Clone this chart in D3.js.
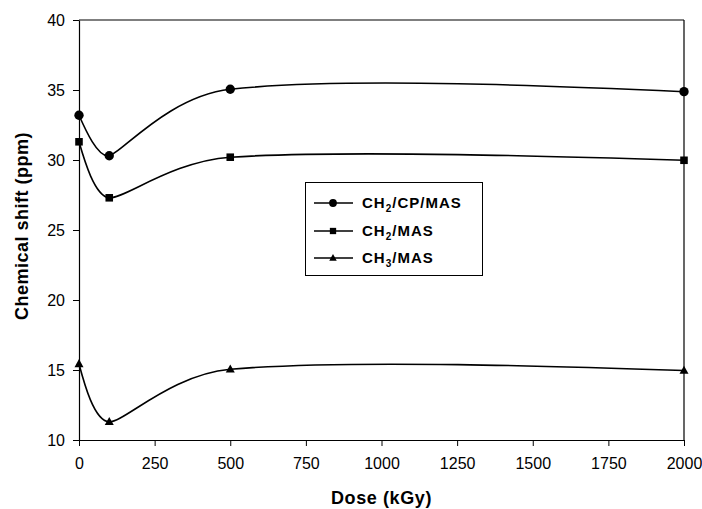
<!DOCTYPE html>
<html>
<head>
<meta charset="utf-8">
<script src="https://cdn.jsdelivr.net/npm/d3@7"></script>
<style>
  html, body { margin: 0; padding: 0; background: #fff; }
  svg { display: block; font-family: Arial, "Liberation Sans", Helvetica, sans-serif; }
</style>
</head>
<body>
<svg id="chart" width="702" height="509"></svg>
<script>
// Irradiation dose (kGy) and 13C chemical shifts (ppm)
const doses = [0, 100, 500, 2000];
const ch2CpMas = [33.2, 30.3, 35.05, 34.88];
const ch2Mas = [31.3, 27.3, 30.2, 29.98];
const ch3Mas = [15.43, 11.3, 15.05, 14.96];

const xTicks = [0, 250, 500, 750, 1000, 1250, 1500, 1750, 2000];
const yTicks = [10, 15, 20, 25, 30, 35, 40];

const series = [
  { name: ["CH", "2", "/CP/MAS"], values: ch2CpMas, marker: "circle" },
  { name: ["CH", "2", "/MAS"], values: ch2Mas, marker: "square" },
  { name: ["CH", "3", "/MAS"], values: ch3Mas, marker: "triangle" }
];

const svg = d3.select("#chart");
const margin = { left: 79, right: 18, top: 20, bottom: 69 };
const W = 702, H = 509;

const x = d3.scaleLinear().domain([0, 2000]).range([margin.left, W - margin.right]);
const y = d3.scaleLinear().domain([10, 40]).range([H - margin.bottom, margin.top]);

// Smoothed line: cubic Bezier segments whose handles follow the
// neighbour-to-neighbour direction, limited by the adjacent segment length
// and kept short at sharp turns so the curve does not sag past them.
function smoothCurve(context) {
  const K = 0.2, C = 0.45, CT = 0.23, E = 1 / 3;
  let pts;
  const dist = (a, b) => Math.hypot(b[0] - a[0], b[1] - a[1]);
  return {
    areaStart() {}, areaEnd() {},
    lineStart() { pts = []; },
    point(px, py) { pts.push([+px, +py]); },
    lineEnd() {
      const n = pts.length;
      if (!n) return;
      context.moveTo(pts[0][0], pts[0][1]);
      if (n === 1) return;
      if (n === 2) { context.lineTo(pts[1][0], pts[1][1]); return; }
      const hin = [], hout = [];
      for (let i = 1; i < n - 1; i++) {
        const p = pts[i], a = pts[i - 1], b = pts[i + 1];
        const tx = b[0] - a[0], ty = b[1] - a[1];
        const tl = Math.hypot(tx, ty) || 1;
        const ux = tx / tl, uy = ty / tl;
        const dPrev = dist(a, p) || 1, dNext = dist(p, b) || 1;
        // cosine of the turn between incoming and outgoing chords
        const cosTurn = ((p[0] - a[0]) * (b[0] - p[0]) + (p[1] - a[1]) * (b[1] - p[1])) / (dPrev * dNext);
        let aIn, aOut;
        if (cosTurn < 0.5) {
          aIn = aOut = Math.min(K * tl, CT * Math.min(dPrev, dNext));
        } else {
          aIn = Math.min(K * tl, C * dPrev);
          aOut = Math.min(K * tl, C * dNext);
        }
        hin[i] = [p[0] - ux * aIn, p[1] - uy * aIn];
        hout[i] = [p[0] + ux * aOut, p[1] + uy * aOut];
      }
      hout[0] = [pts[0][0] + (hin[1][0] - pts[0][0]) * E, pts[0][1] + (hin[1][1] - pts[0][1]) * E];
      const L = n - 1;
      hin[L] = [pts[L][0] + (hout[L - 1][0] - pts[L][0]) * E, pts[L][1] + (hout[L - 1][1] - pts[L][1]) * E];
      for (let i = 0; i < L; i++) {
        context.bezierCurveTo(hout[i][0], hout[i][1], hin[i + 1][0], hin[i + 1][1], pts[i + 1][0], pts[i + 1][1]);
      }
    }
  };
}

// frame: top and right edges
svg.append("line")
  .attr("x1", x(0)).attr("x2", x(2000)).attr("y1", y(40)).attr("y2", y(40))
  .attr("stroke", "#000").attr("stroke-width", 1.2);
svg.append("line")
  .attr("x1", x(2000)).attr("x2", x(2000)).attr("y1", y(40)).attr("y2", y(10))
  .attr("stroke", "#000").attr("stroke-width", 1.2);

const xAxis = svg.append("g")
  .attr("transform", `translate(0,${y(10)})`)
  .call(d3.axisBottom(x).tickValues(xTicks).tickFormat(d3.format("d"))
    .tickSize(6).tickPadding(12).tickSizeOuter(0));
const yAxis = svg.append("g")
  .attr("transform", `translate(${x(0)},0)`)
  .call(d3.axisLeft(y).tickValues(yTicks).tickFormat(d3.format("d"))
    .tickSize(6).tickPadding(8).tickSizeOuter(0));

[xAxis, yAxis].forEach(g => {
  g.select(".domain").attr("stroke", "#000").attr("stroke-width", 1.2);
  g.selectAll(".tick line").attr("stroke", "#000").attr("stroke-width", 1);
  g.selectAll(".tick text")
    .attr("fill", "#000")
    .style("font-size", "16px")
    .style("font-family", "Arial, 'Liberation Sans', sans-serif");
});

// axis titles
svg.append("text")
  .attr("x", (x(0) + x(2000)) / 2)
  .attr("y", 504)
  .attr("text-anchor", "middle")
  .style("font-size", "18px").style("font-weight", "bold").style("letter-spacing", "0.6px")
  .text("Dose (kGy)");
svg.append("text")
  .attr("transform", `translate(28,${226}) rotate(-90)`)
  .attr("text-anchor", "middle")
  .style("font-size", "18px").style("font-weight", "bold").style("letter-spacing", "0.5px")
  .text("Chemical shift (ppm)");

const line = d3.line()
  .x((d, i) => x(doses[i]))
  .y(d => y(d))
  .curve(smoothCurve);

function drawMarker(g, type, cx, cy, s) {
  if (type === "circle") {
    g.append("circle").attr("cx", cx).attr("cy", cy).attr("r", s * 0.52).attr("fill", "#000");
  } else if (type === "square") {
    g.append("rect").attr("x", cx - s * 0.42).attr("y", cy - s * 0.42)
      .attr("width", s * 0.84).attr("height", s * 0.84).attr("fill", "#000");
  } else {
    const w = s * 1.0, h = s * 0.9;
    g.append("path")
      .attr("d", `M${cx},${cy - h * 0.6}L${cx + w / 2},${cy + h * 0.4}L${cx - w / 2},${cy + h * 0.4}Z`)
      .attr("fill", "#000");
  }
}

const plot = svg.append("g");
series.forEach(s => {
  plot.append("path")
    .attr("d", line(s.values))
    .attr("fill", "none")
    .attr("stroke", "#000")
    .attr("stroke-width", 1.6);
  const mg = plot.append("g");
  s.values.forEach((v, i) => drawMarker(mg, s.marker, x(doses[i]), y(v), 9));
});

// legend
const legend = svg.append("g");
legend.append("rect")
  .attr("x", 305.5).attr("y", 182.5).attr("width", 177).attr("height", 93)
  .attr("fill", "#fff").attr("stroke", "#000").attr("stroke-width", 1);
const rowY = [203, 231, 258];
series.forEach((s, i) => {
  const yy = rowY[i];
  legend.append("line").attr("x1", 314).attr("x2", 353).attr("y1", yy).attr("y2", yy)
    .attr("stroke", "#000").attr("stroke-width", 1.4);
  drawMarker(legend, s.marker, 333, yy, 7.5);
  const t = legend.append("text")
    .attr("x", 362).attr("y", yy + 5)
    .style("font-size", "15px").style("font-weight", "bold").style("letter-spacing", "1px");
  t.append("tspan").text(s.name[0]);
  t.append("tspan").attr("dy", 4).style("font-size", "10px").text(s.name[1]);
  t.append("tspan").attr("dy", -4).text(s.name[2]);
});
</script>
</body>
</html>
